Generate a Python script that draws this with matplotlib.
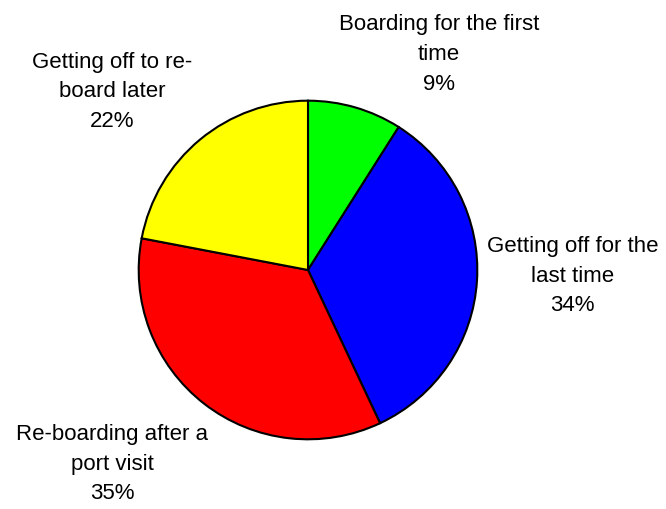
import matplotlib.pyplot as plt

reasons = ['Boarding for the first\ntime', 'Getting off for the\nlast time',
           'Re-boarding after a\nport visit', 'Getting off to re-\nboard later']
shares = [9, 34, 35, 22]
colors = ['#00ff00', '#0000ff', '#ff0000', '#ffff00']

# label block centres, in pie radius units
label_pos = [(0.772, 1.28), (1.561, -0.03), (-1.158, -1.14), (-1.158, 1.058)]

plt.rcParams['font.family'] = ['Liberation Sans', 'DejaVu Sans']

fig = plt.figure(figsize=(6.66, 5.10), dpi=100)
cx, cy, r = 308, 271, 171
ax = fig.add_axes([(cx - r) / 666, (510 - cy - r) / 510, 2 * r / 666, 2 * r / 510])
ax.pie(shares, colors=colors, startangle=90, counterclock=False, radius=1,
       wedgeprops=dict(edgecolor='black', linewidth=1.5))
ax.set_xlim(-1.01, 1.01)
ax.set_ylim(-1.01, 1.01)
ax.set_aspect('equal')
ax.axis('off')

for name, v, (x, y) in zip(reasons, shares, label_pos):
    ax.text(x, y, f'{name}\n{v}%', ha='center', va='center', fontsize=16,
            linespacing=1.55, clip_on=False)

fig.savefig('out.png', dpi=100)
